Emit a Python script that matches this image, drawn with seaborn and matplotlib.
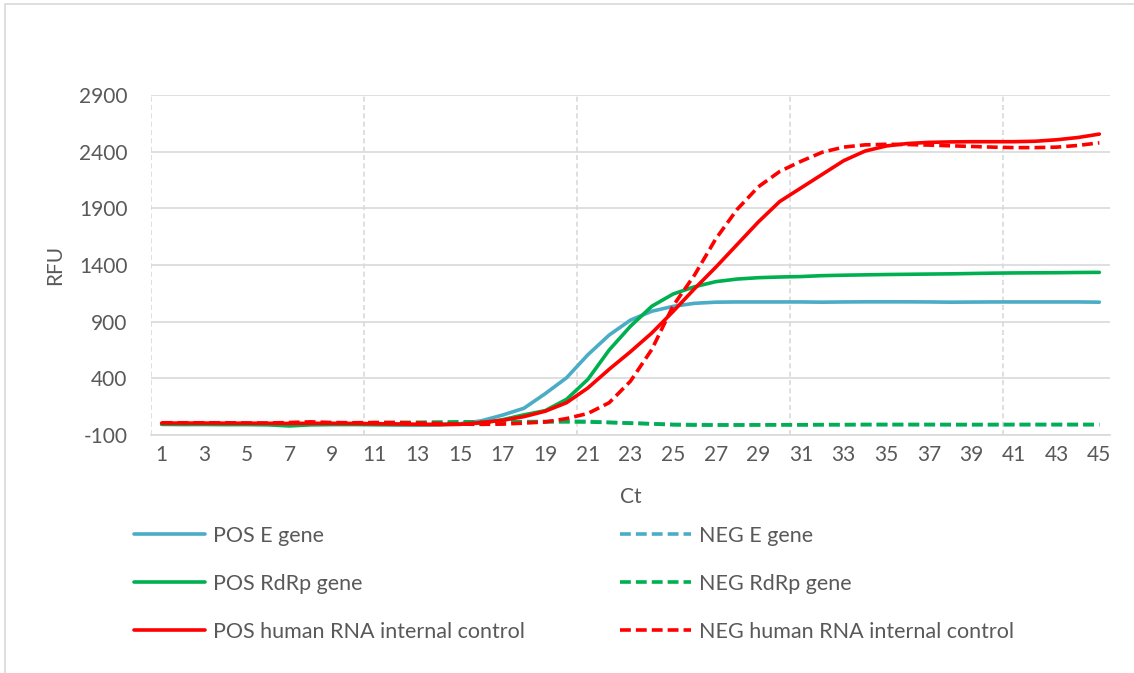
import matplotlib
matplotlib.use("Agg")
import matplotlib.pyplot as plt
from matplotlib.patches import Rectangle
import pandas as pd
import seaborn as sns

# Cycle numbers and RFU readings for each curve
cycles = list(range(1, 46))

pos_e = [-5, -6, -5, -6, -5, -6, -8, -6, -5, -4, -8, -10, -10, -8, 0,
         25, 76, 136, 265, 405, 608, 782, 914, 992, 1035, 1062, 1072, 1074, 1074, 1074,
         1074, 1072, 1074, 1075, 1075, 1075, 1074, 1072, 1073, 1074, 1074, 1074, 1074, 1074, 1072]
neg_e = [-2, -2, -1, -2, -3, -3, -4, -3, -2, -1, 0, 2, 4, 6, 10,
         14, 16, 18, 20, 22, 20, 12, 6, 0, -6, -8, -10, -10, -10, -10,
         -10, -9, -9, -8, -8, -8, -8, -9, -9, -9, -8, -8, -8, -8, -8]
pos_rdrp = [-6, -7, -7, -8, -8, -10, -20, -10, -8, -8, -8, -9, -10, -8, -4,
            5, 35, 78, 115, 215, 391, 650, 860, 1036, 1144, 1208, 1253, 1276, 1288, 1294,
            1298, 1306, 1310, 1313, 1316, 1318, 1320, 1322, 1325, 1328, 1330, 1331, 1332, 1334, 1335]
neg_rdrp = [0, 0, 1, 0, 0, -1, 0, 1, 2, 4, 8, 10, 12, 14, 16,
            16, 17, 16, 16, 16, 15, 10, 4, -2, -10, -12, -12, -12, -11, -10,
            -10, -9, -9, -8, -8, -8, -8, -8, -8, -8, -8, -8, -8, -8, -8]
pos_ic = [5, 5, 5, 4, 4, 3, 2, 3, 3, 2, 0, -2, -5, -8, -6,
          10, 30, 62, 110, 185, 315, 480, 635, 800, 990, 1190, 1380, 1580, 1780, 1960,
          2080, 2200, 2320, 2405, 2450, 2472, 2482, 2486, 2488, 2488, 2488, 2492, 2505, 2525, 2555]
neg_ic = [8, 8, 8, 8, 6, 6, 10, 16, 10, 8, 10, 10, 6, 2, -4,
          -6, -4, 5, 15, 45, 90, 185, 375, 655, 1040, 1310, 1630, 1890, 2090, 2225,
          2315, 2395, 2440, 2460, 2465, 2463, 2458, 2452, 2446, 2440, 2436, 2436, 2440, 2455, 2478]

series = [
    ("POS E gene", pos_e, "#4BACC6", "-"),
    ("NEG E gene", neg_e, "#4BACC6", "--"),
    ("POS RdRp gene", pos_rdrp, "#00B050", "-"),
    ("NEG RdRp gene", neg_rdrp, "#00B050", "--"),
    ("POS human RNA internal control", pos_ic, "#FF0000", "-"),
    ("NEG human RNA internal control", neg_ic, "#FF0000", "--"),
]

sns.set_style("white")
plt.rcParams["font.family"] = ["Lato", "DejaVu Sans"]
plt.rcParams["axes.unicode_minus"] = False
text_col = "#595959"
grid_col = "#D9D9D9"

fig = plt.figure(figsize=(11.34, 6.73), dpi=100)
ax = fig.add_axes([151 / 1134, 1 - 435 / 673, (1110 - 151) / 1134, (435 - 95) / 673])

handles = {}
for name, vals, col, ls in series:
    df = pd.DataFrame({"Ct": cycles, "RFU": vals})
    sns.lineplot(data=df, x="Ct", y="RFU", ax=ax, color=col, linewidth=2.6, label=name)
    line = ax.lines[-1]
    if ls == "--":
        line.set_dashes((3.0, 1.4))
    handles[name] = line

ax.set_xlim(0.5, 45.5)
ax.set_ylim(-100, 2900)
ax.set_yticks(range(-100, 2901, 500))
ax.set_xticks(range(1, 46, 2))
ax.set_xticks([0.5, 10.5, 20.5, 30.5, 40.5], minor=True)

ax.grid(axis="y", which="major", color=grid_col, linewidth=1.2)
ax.grid(axis="x", which="minor", color=grid_col, linewidth=1.2, linestyle=(0, (3, 2)))
ax.grid(axis="x", which="major", visible=False)
for s in ["top", "right", "left"]:
    ax.spines[s].set_visible(False)
ax.spines["bottom"].set_color(grid_col)
ax.spines["bottom"].set_linewidth(1.2)

ax.tick_params(axis="both", which="both", length=0, labelsize=15, colors=text_col)
ax.tick_params(axis="y", pad=17)
ax.tick_params(axis="x", pad=7)
ax.set_xlabel("Ct", fontsize=15, color=text_col, labelpad=16)
ax.set_ylabel("RFU", fontsize=15, color=text_col, labelpad=10)
ax.legend_.remove()

pos_names = [s[0] for s in series if s[0].startswith("POS")]
neg_names = [s[0] for s in series if s[0].startswith("NEG")]
for names, x0 in [(pos_names, 134 / 1134), (neg_names, 620 / 1134)]:
    fig.legend([handles[n] for n in names], names, loc="upper left",
               bbox_to_anchor=(x0, 1 - 526 / 673), frameon=False, fontsize=15.5,
               handlelength=3.3, handletextpad=0.35, labelspacing=1.3,
               borderpad=0, borderaxespad=0, labelcolor=text_col)

fig.patches.append(Rectangle((5 / 1134, -0.1), 1.2, 1.1 - 4 / 673, transform=fig.transFigure,
                             fill=False, edgecolor=grid_col, linewidth=1.2))

fig.savefig("out.png", dpi=100)
